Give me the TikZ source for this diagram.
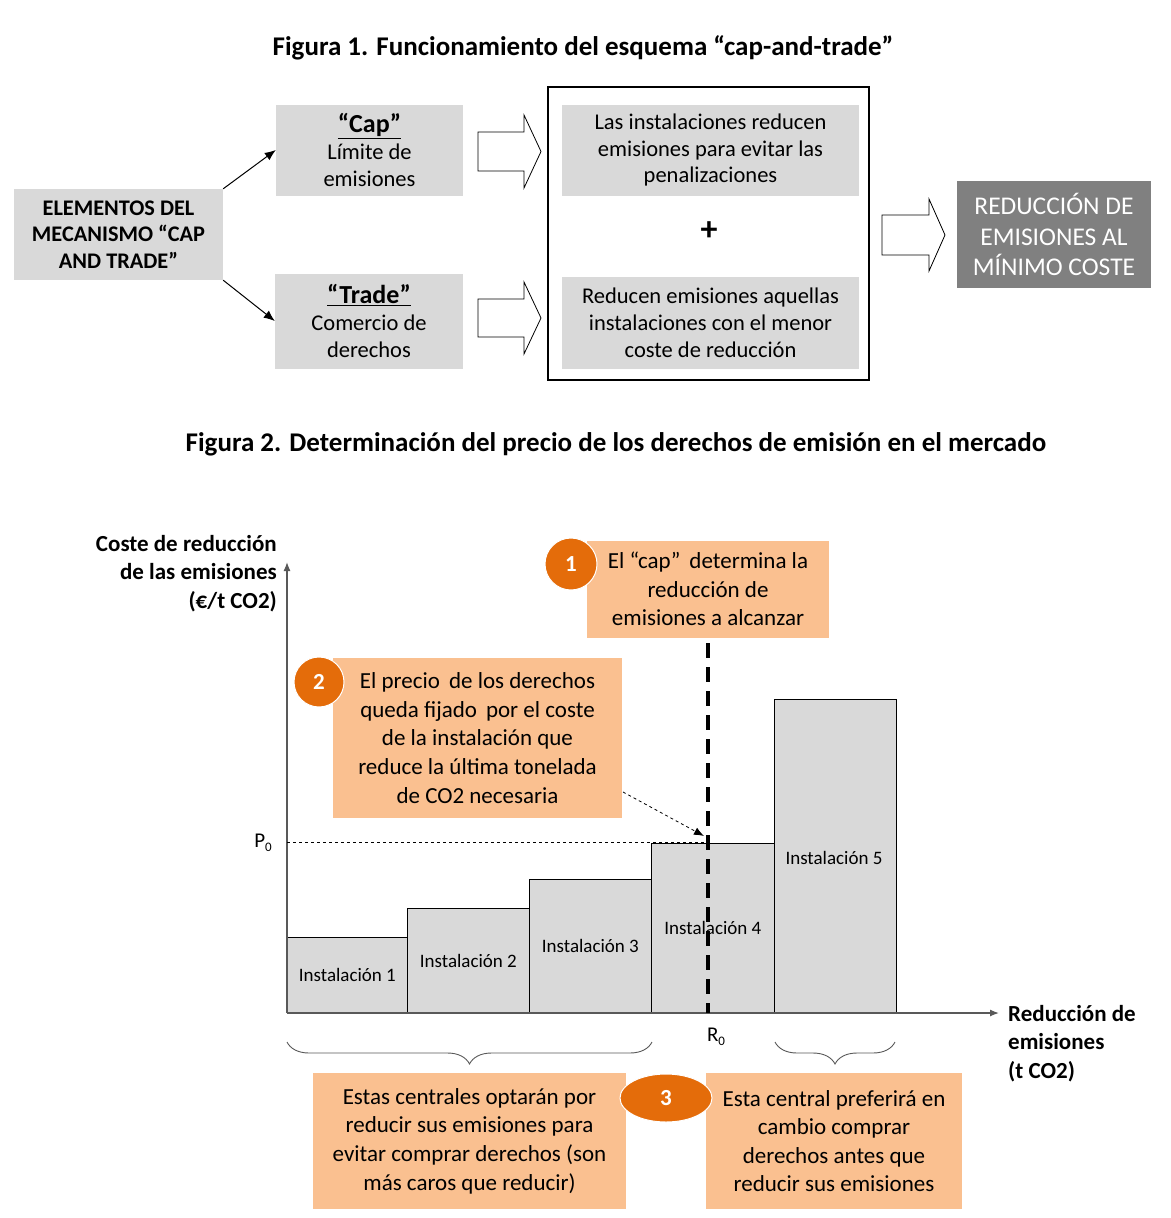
\documentclass[tikz,border=0pt]{standalone}
\usepackage{fontspec}
\setmainfont{Carlito}
\usetikzlibrary{arrows.meta,decorations.pathreplacing,shapes.geometric}
\definecolor{boxgray}{HTML}{D9D9D9}
\definecolor{resgray}{HTML}{808080}
\definecolor{lightorange}{HTML}{FAC090}
\definecolor{darkorange}{HTML}{E46C0A}
\definecolor{axisgray}{HTML}{595959}
\begin{document}
\begin{tikzpicture}[x=1pt,y=-1pt,
  title/.style={font=\bfseries\fontsize{27}{30}\selectfont},
  graybox/.style={fill=boxgray, inner sep=0pt, align=center, font=\fontsize{22.5}{26.8}\selectfont},
  orangebox/.style={fill=lightorange, inner sep=0pt, align=center, font=\fontsize{23}{28.6}\selectfont},
  badge/.style={circle, fill=darkorange, draw=white, line width=1pt, text=white, inner sep=0pt, font=\bfseries\fontsize{23}{23}\selectfont},
  blockarrow/.style={draw, fill=white, line width=0.8pt, line join=miter},
  bar/.style={draw, fill=boxgray, line width=0.8pt, inner sep=0pt, anchor=south west, font=\fontsize{19}{20}\selectfont},
  axis/.style={draw=axisgray, line width=1.3pt, -{Latex[length=9pt,width=7pt]}},
  axislabel/.style={inner sep=0pt, font=\bfseries\fontsize{23}{28.5}\selectfont},
  brace/.style={draw=axisgray, line width=0.9pt, decorate, decoration={brace, mirror, amplitude=22pt, aspect=0.5}},
  ]
\useasboundingbox (0,0) rectangle (1170,1218);
\node[title] (t1) at (583,48) {Figura 1. Funcionamiento del esquema “cap-and-trade”};
\node[graybox, minimum width=209pt, minimum height=91pt, font=\bfseries\fontsize{22.3}{26.5}\selectfont] (elem) at (118.5,234.5) {ELEMENTOS DEL\\MECANISMO “CAP\\AND TRADE”};
\node[graybox, minimum width=187pt, minimum height=91pt] (cap) at (369.5,150) {{\bfseries\fontsize{26}{26.8}\selectfont\underline{“Cap”}}\\Límite de\\emisiones};
\node[graybox, minimum width=188pt, minimum height=95pt] (trade) at (369,321) {{\bfseries\fontsize{26}{26.8}\selectfont\underline{“Trade”}}\\Comercio de\\derechos};
\draw[-{Latex[length=11pt,width=9pt]}, line width=1pt] (elem.north east) -- (cap.west);
\draw[-{Latex[length=11pt,width=9pt]}, line width=1pt] (elem.south east) -- (trade.west);
\draw[blockarrow] (478,132) -- (524,132) -- (524,115) -- (541,151.5) -- (524,188) -- (524,171) -- (478,171) -- cycle;
\draw[blockarrow] (478,299) -- (524,299) -- (524,282) -- (541,318) -- (524,354) -- (524,337) -- (478,337) -- cycle;
\node[draw, line width=2pt, minimum width=321pt, minimum height=293pt] (frame) at (708.5,233.5) {};
\node[graybox, minimum width=297pt, minimum height=91pt] (red1) at (710.5,150) {Las instalaciones reducen\\emisiones para evitar las\\penalizaciones};
\node[font=\bfseries\fontsize{34}{34}\selectfont] (plus) at (709,231) {+};
\node[graybox, minimum width=297pt, minimum height=92pt] (red2) at (710.5,322.5) {Reducen emisiones aquellas\\instalaciones con el menor\\coste de reducción};
\draw[blockarrow] (882,215) -- (929,215) -- (929,199) -- (945,235) -- (929,271) -- (929,255) -- (882,255) -- cycle;
\node[fill=resgray, text=white, inner sep=0pt, align=center, minimum width=194pt, minimum height=107pt, font=\fontsize{25.5}{30.5}\selectfont] (result) at (1054,234.5) {REDUCCIÓN DE\\EMISIONES AL\\MÍNIMO COSTE};
\node[title] (t2) at (616,444) {Figura 2. Determinación del precio de los derechos de emisión en el mercado};
\coordinate (o) at (287,1013);
\coordinate (ytop) at (287,562);
\coordinate (xend) at (999,1013);
\coordinate (p0) at (287,842);
\coordinate (r0top) at (708,643);
\coordinate (r0) at (708,1013);
\node[bar, minimum width=120pt, minimum height=75pt] (ins1) at (287,1013) {Instalación 1};
\node[bar, minimum width=122pt, minimum height=104pt] (ins2) at (407,1013) {Instalación 2};
\node[bar, minimum width=122pt, minimum height=133pt] (ins3) at (529,1013) {Instalación 3};
\node[bar, minimum width=123pt, minimum height=169pt] (ins4) at (651,1013) {Instalación 4};
\node[bar, minimum width=122pt, minimum height=313pt] (ins5) at (774,1013) {};
\node[font=\fontsize{19}{20}\selectfont] (l5) at (834,858) {Instalación 5};
\draw[axis] (o) -- (ytop);
\draw[axis] (o) -- (xend);
\draw[dashed, line width=0.8pt] (p0) -- (p0 -| r0);
\node[font=\fontsize{21}{22}\selectfont] (p0lab) at (263,843) {P\raisebox{-4pt}{\fontsize{13}{13}\selectfont 0}};
\node[font=\fontsize{21}{22}\selectfont] (r0lab) at (716,1037) {R\raisebox{-4pt}{\fontsize{13}{13}\selectfont 0}};
\draw[line width=4pt, dash pattern=on 15pt off 9pt] (r0top) -- (r0);
\node[axislabel, align=right, anchor=east] (ylab) at (277,573.5) {Coste de reducción\\de las emisiones\\(€/t CO2)};
\node[axislabel, align=left, anchor=west] (xlab) at (1008,1043.5) {Reducción de\\emisiones\\(t CO2)};
\node[orangebox, minimum width=242pt, minimum height=97pt] (box1) at (708,589) {El “cap”\, determina la\\reducción de\\emisiones a alcanzar};
\node[badge, minimum size=52pt] (n1) at (571,564) {1};
\node[orangebox, minimum width=289pt, minimum height=160pt] (box2) at (477.5,738) {El precio\, de los derechos\\queda fijado\, por el coste\\de la instalación que\\reduce la última tonelada\\de CO2 necesaria};
\node[badge, minimum size=50pt] (n2) at (319,682) {2};
\coordinate (a2s) at (623,792);
\coordinate (a2e) at (704,836);
\draw[dashed, line width=0.8pt, -{Latex[length=10pt,width=8pt]}] (a2s) -- (a2e);
\draw[brace] (287,1042) -- (652,1042);
\draw[brace] (775,1042) -- (895,1042);
\node[orangebox, minimum width=313pt, minimum height=136pt] (box3a) at (469.5,1141) {Estas centrales optarán por\\reducir sus emisiones para\\evitar comprar derechos (son\\más caros que reducir)};
\node[orangebox, minimum width=256pt, minimum height=136pt] (box3b) at (834,1141) {Esta central preferirá en\\cambio comprar\\derechos antes que\\reducir sus emisiones};
\node[badge, ellipse, minimum width=92pt, minimum height=48pt] (n3) at (666,1098) {3};
\end{tikzpicture}
\end{document}
